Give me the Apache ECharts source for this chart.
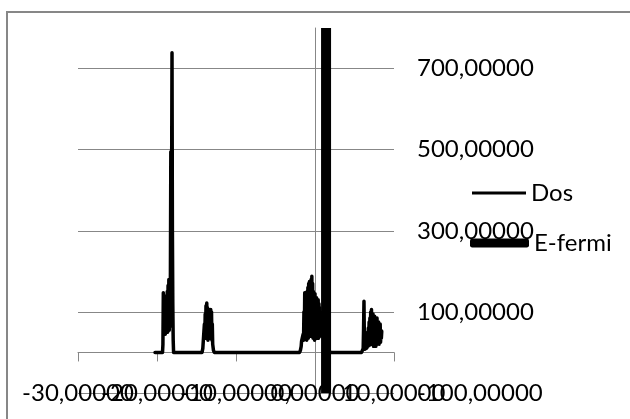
<!DOCTYPE html>
<html>
<head>
<meta charset="utf-8">
<script src="https://cdn.jsdelivr.net/npm/echarts@6/dist/echarts.min.js"></script>
<style>
html,body{margin:0;padding:0;background:#fff;}
#main{width:630px;height:419px;}
</style>
</head>
<body>
<div id="main"></div>
<script>
// ---- data ----
const seriesNames = ['Dos', 'E-fermi'];
const xTicks = [-30, -20, -10, 0, 10];
const yTicks = [-100, 100, 300, 500, 700];

const dosEnergy = [
  -20.25, -19.30,
  -19.25, -19.20, -19.15, -19.10, -19.05, -19.00, -18.95, -18.90, -18.85, -18.80,
  -18.75, -18.70, -18.65, -18.60, -18.55, -18.50, -18.45, -18.40, -18.35, -18.30,
  -18.25, -18.20, -18.15, -18.10, -18.05, -18.00, -17.95, -17.90,
  -14.30, -14.20, -14.10, -14.00, -13.95, -13.90, -13.85, -13.80, -13.75, -13.70,
  -13.65, -13.60, -13.55, -13.50, -13.45, -13.40, -13.35, -13.30, -13.25, -13.20,
  -13.15, -13.10, -13.05, -13.00, -12.95, -12.85, -12.75,
  -1.95, -1.85, -1.75, -1.70, -1.60, -1.50, -1.45, -1.40, -1.35, -1.30,
  -1.25, -1.20, -1.15, -1.10, -1.05, -1.00, -0.95, -0.90, -0.85, -0.80,
  -0.75, -0.70, -0.65, -0.60, -0.55, -0.50, -0.45, -0.40, -0.35, -0.30,
  -0.25, -0.20, -0.15, -0.10, -0.05, 0.00, 0.05, 0.10, 0.15, 0.20,
  0.25, 0.30, 0.35, 0.40, 0.45, 0.50, 0.55, 0.60, 0.65, 0.70,
  0.80, 0.90, 1.00, 1.10, 1.20, 1.30, 1.40, 1.50, 1.60, 1.70, 1.80, 1.90,
  5.90, 6.00, 6.10, 6.15, 6.20, 6.25, 6.30, 6.40, 6.50, 6.55,
  6.60, 6.65, 6.70, 6.75, 6.80, 6.85, 6.90, 6.95, 7.00, 7.05,
  7.10, 7.15, 7.20, 7.25, 7.30, 7.35, 7.40, 7.45, 7.50, 7.55,
  7.60, 7.65, 7.70, 7.75, 7.80, 7.85, 7.90, 7.95, 8.00, 8.05,
  8.10, 8.15, 8.20, 8.25, 8.30, 8.35, 8.40, 8.45
];
const dosValue = [
  0, 0,
  20, 147, 55, 140, 50, 120, 45, 135, 55, 110,
  60, 150, 50, 165, 60, 180, 55, 175, 65, 200,
  495, 180, 420, 739, 300, 120, 30, 0,
  0, 10, 40, 70, 35, 95, 40, 115, 35, 122,
  40, 110, 30, 100, 35, 90, 40, 105, 35, 106,
  45, 100, 30, 70, 20, 5, 0,
  0, 5, 15, 28, 30, 45, 30, 100, 40, 147,
  35, 140, 45, 125, 30, 150, 40, 160, 35, 170,
  45, 175, 40, 165, 50, 180, 45, 188, 40, 170,
  35, 150, 40, 135, 30, 145, 40, 120, 35, 135,
  45, 125, 40, 130, 35, 120, 45, 110, 40, 100,
  60, 90, 40, 80, 50, 70, 30, 50, 20, 30, 5, 0,
  0, 3, 10, 60, 126, 30, 8, 15, 10, 35,
  12, 50, 15, 60, 20, 75, 18, 85, 25, 100,
  20, 106, 25, 90, 20, 95, 15, 80, 25, 89,
  20, 75, 15, 70, 25, 85, 20, 65, 25, 75,
  20, 60, 30, 70, 25, 55, 35, 52
];
const fermiEnergy = [1.4, 1.4];
const fermiValue = [-100, 800];

// ---- chart ----
const fmt = v => v.toFixed(5).replace('.', ',');
const FONT = 'Lato';
const GRID_COLOR = '#878787';
const X_MIN = xTicks[0], X_MAX = xTicks[xTicks.length - 1];

// labels split over two axes (alternate ticks) so overlapping labels all stay visible, as in the original
function labelAxis(keepOdd) {
  return {
    type: 'value', position: 'bottom',
    min: X_MIN, max: X_MAX, interval: 10,
    axisLine: {show: false, onZero: false},
    axisTick: {show: false},
    splitLine: {show: false},
    axisLabel: {
      interval: 0,
      formatter: v => {
        const idx = xTicks.indexOf(v);
        if (idx < 0) return '';
        return (idx % 2 === 0) === keepOdd ? fmt(v) : '';
      },
      margin: 0, verticalAlign: 'middle',
      fontFamily: FONT, fontSize: 24, color: '#000',
      showMinLabel: true, showMaxLabel: true, hideOverlap: false
    }
  };
}

const chart = echarts.init(document.getElementById('main'), null, {renderer: 'canvas'});
chart.setOption({
  animation: false,
  backgroundColor: '#ffffff',
  graphic: [{
    type: 'rect',
    shape: {x: 7, y: 12, width: 700, height: 500},
    style: {fill: 'none', stroke: GRID_COLOR, lineWidth: 2},
    silent: true
  }],
  grid: {left: 78, right: 236, top: 28, bottom: 26, containLabel: false},
  legend: [{
    data: [seriesNames[0]],
    orient: 'vertical',
    left: 472, top: 181,
    padding: 0,
    icon: 'rect',
    itemWidth: 54, itemHeight: 3,
    itemStyle: {color: '#000', borderWidth: 0},
    textStyle: {fontFamily: FONT, fontSize: 24, color: '#000'},
    selectedMode: false
  }, {
    data: [seriesNames[1]],
    orient: 'vertical',
    left: 470, top: 231,
    padding: 0,
    icon: 'roundRect',
    itemWidth: 59, itemHeight: 9,
    itemStyle: {color: '#000', borderWidth: 0},
    textStyle: {fontFamily: FONT, fontSize: 24, color: '#000'},
    selectedMode: false
  }],
  xAxis: [
    {
      type: 'value', position: 'bottom',
      min: X_MIN, max: X_MAX, interval: 10,
      axisLine: {show: true, onZero: true, onZeroAxisIndex: 0, lineStyle: {color: GRID_COLOR, width: 1}},
      axisTick: {show: true, inside: false, length: 9, interval: 0, lineStyle: {color: GRID_COLOR, width: 1}},
      splitLine: {show: false},
      axisLabel: {show: false}
    },
    labelAxis(true),
    labelAxis(false)
  ],
  yAxis: [{
    type: 'value', position: 'right',
    min: yTicks[0], max: 800, interval: 200,
    axisLine: {show: false, onZero: false},
    axisTick: {show: false},
    splitLine: {show: true, showMaxLine: false, lineStyle: {color: GRID_COLOR, width: 1}},
    axisLabel: {
      interval: 0,
      formatter: fmt, margin: 23,
      fontFamily: FONT, fontSize: 24, color: '#000',
      showMaxLabel: false, hideOverlap: false
    }
  }, {
    type: 'value', position: 'left',
    min: yTicks[0], max: 800, interval: 200,
    axisLine: {show: true, onZero: true, onZeroAxisIndex: 0, lineStyle: {color: GRID_COLOR, width: 1}},
    axisTick: {show: false},
    splitLine: {show: false},
    axisLabel: {show: false}
  }],
  series: [{
    name: seriesNames[0], type: 'line',
    xAxisIndex: 0, yAxisIndex: 0,
    data: dosEnergy.map((e, i) => [e, dosValue[i]]),
    showSymbol: false, symbol: 'none',
    lineStyle: {color: '#000', width: 3.5, join: 'round', cap: 'round'},
    itemStyle: {color: '#000'},
    z: 3
  }, {
    name: seriesNames[1], type: 'line',
    xAxisIndex: 0, yAxisIndex: 0,
    data: fermiEnergy.map((e, i) => [e, fermiValue[i]]),
    showSymbol: false, symbol: 'none',
    lineStyle: {color: '#000', width: 10, cap: 'butt'},
    itemStyle: {color: '#000'},
    z: 4
  }]
});
</script>
</body>
</html>
